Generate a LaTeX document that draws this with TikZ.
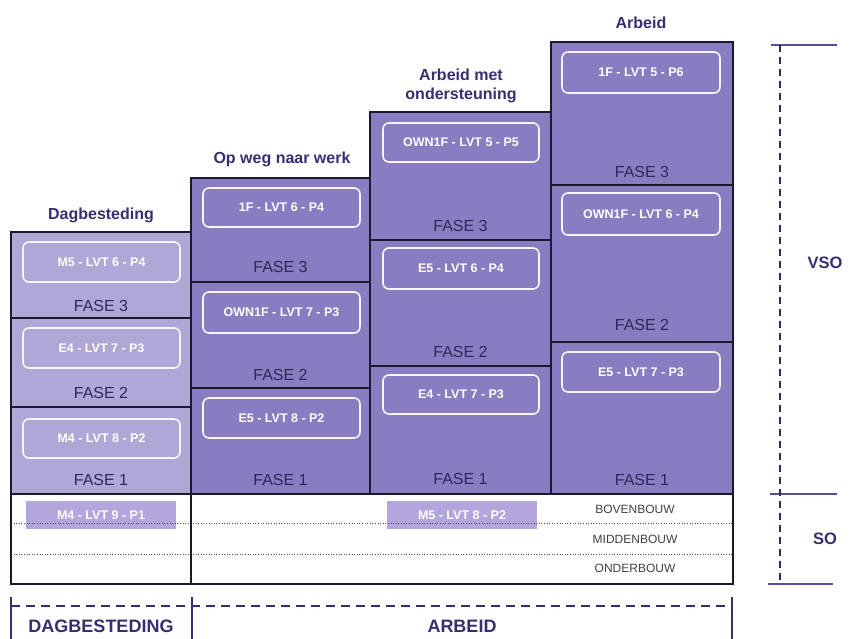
\documentclass[tikz,border=0pt]{standalone}
\usepackage{fontspec}
\setmainfont{Liberation Sans}
\definecolor{paars}{HTML}{8A7CC1}
\definecolor{lichtpaars}{HTML}{B1A7D7}
\definecolor{vakpaars}{HTML}{B3A6DC}
\definecolor{donker}{HTML}{2E2759}
\definecolor{koptekst}{HTML}{382D6E}
\definecolor{lijn}{HTML}{1C1830}
\definecolor{maat}{HTML}{5B4D99}
\begin{document}
\begin{tikzpicture}[x=1pt,y=-1pt,
		vak/.style={draw=lijn,line width=1.6pt},
		fase/.style={text=donker,font=\fontsize{16}{18}\selectfont},
		niveau/.style={draw=white!92!paars,line width=1.6pt,rounded corners=6pt,text=white,
			font=\bfseries\fontsize{12.5}{14}\selectfont,inner sep=0pt},
		so/.style={fill=vakpaars,text=white,font=\bfseries\fontsize{12.5}{14}\selectfont,
			minimum width=150pt,minimum height=28pt,inner sep=0pt},
		bouw/.style={text=black!75,font=\fontsize{12}{14}\selectfont},
		titel/.style={text=koptekst,font=\bfseries\fontsize{16}{19}\selectfont,align=center},
		groep/.style={text=koptekst,font=\bfseries\fontsize{18}{20}\selectfont}]
		\useasboundingbox (0,0) rectangle (850,638);
		% kolommen
		\draw[vak,fill=lichtpaars] (11,232) rectangle (191,318) (11,318) rectangle (191,407) (11,407) rectangle (191,494);
		\draw[vak,fill=paars] (191,178) rectangle (370,282) (191,282) rectangle (370,388) (191,388) rectangle (370,494);
		\draw[vak,fill=paars] (370,112) rectangle (551,240) (370,240) rectangle (551,366) (370,366) rectangle (551,494);
		\draw[vak,fill=paars] (551,42) rectangle (733,185) (551,185) rectangle (733,342) (551,342) rectangle (733,494);
		% titels
		\node[titel] (dag) at (101,215) {Dagbesteding};
		\node[titel] (weg) at (282,159) {Op weg naar werk};
		\node[titel] (mee) at (461,86) {Arbeid met\\ondersteuning};
		\node[titel] (arb) at (641,23) {Arbeid};
		% niveaus
		\node[niveau,minimum width=157pt,minimum height=40pt] (d3) at (101.5,262) {M5 - LVT 6 - P4};
		\node[niveau,minimum width=157pt,minimum height=40pt] (d2) at (101.5,348) {E4 - LVT 7 - P3};
		\node[niveau,minimum width=157pt,minimum height=39pt] (d1) at (101.5,438.5) {M4 - LVT 8 - P2};
		\node[niveau,minimum width=157pt,minimum height=39pt] (w3) at (281.5,207.5) {1F - LVT 6 - P4};
		\node[niveau,minimum width=157pt,minimum height=41pt] (w2) at (281.5,312.5) {OWN1F - LVT 7 - P3};
		\node[niveau,minimum width=157pt,minimum height=40pt] (w1) at (281.5,418) {E5 - LVT 8 - P2};
		\node[niveau,minimum width=156pt,minimum height=39pt] (m3) at (461,142.5) {OWN1F - LVT 5 - P5};
		\node[niveau,minimum width=156pt,minimum height=41pt] (m2) at (461,268.5) {E5 - LVT 6 - P4};
		\node[niveau,minimum width=156pt,minimum height=39pt] (m1) at (461,394.5) {E4 - LVT 7 - P3};
		\node[niveau,minimum width=158pt,minimum height=41pt] (a3) at (641,72.5) {1F - LVT 5 - P6};
		\node[niveau,minimum width=158pt,minimum height=42pt] (a2) at (641,214) {OWN1F - LVT 6 - P4};
		\node[niveau,minimum width=158pt,minimum height=40pt] (a1) at (641,372) {E5 - LVT 7 - P3};
		% fases
		\node[fase] (df3) at (101,306) {FASE 3};
		\node[fase] (df2) at (101,393) {FASE 2};
		\node[fase] (df1) at (101,480) {FASE 1};
		\node[fase] (wf3) at (280.5,267) {FASE 3};
		\node[fase] (wf2) at (280.5,375) {FASE 2};
		\node[fase] (wf1) at (280.5,480) {FASE 1};
		\node[fase] (mf3) at (460.5,226) {FASE 3};
		\node[fase] (mf2) at (460.5,352) {FASE 2};
		\node[fase] (mf1) at (460.5,479) {FASE 1};
		\node[fase] (af3) at (642,172) {FASE 3};
		\node[fase] (af2) at (642,325) {FASE 2};
		\node[fase] (af1) at (642,480) {FASE 1};
		% SO
		\node[so] (so1) at (101,515) {M4 - LVT 9 - P1};
		\node[so] (so2) at (462,515) {M5 - LVT 8 - P2};
		\draw[black!70,dotted,line width=0.6pt] (11,523)--(733,523) (11,554)--(733,554);
		\draw[vak] (11,494) rectangle (733,584) (191,494)--(191,584);
		\node[bouw] (bov) at (635,509) {BOVENBOUW};
		\node[bouw] (mid) at (635,539) {MIDDENBOUW};
		\node[bouw] (ond) at (635,568) {ONDERBOUW};
		% rechts
		\draw[maat,line width=1.3pt] (771,45)--(837,45) (770,494)--(837,494) (768,584)--(833,584);
		\draw[donker,line width=1.4pt,dash pattern=on 7pt off 5pt] (780,45)--(780,584);
		\node[groep,font=\bfseries\fontsize{16.5}{19}\selectfont] (vso) at (825,263) {VSO};
		\node[groep,font=\bfseries\fontsize{16.5}{19}\selectfont] (so) at (825,539) {SO};
		% onder
		\draw[koptekst,line width=1.6pt,dash pattern=on 9pt off 6pt] (11,606)--(733,606);
		\draw[koptekst,line width=1.6pt] (11,597)--(11,640) (192,597)--(192,640) (732,597)--(732,640);
		\node[groep] (gdag) at (101,626) {DAGBESTEDING};
		\node[groep] (garb) at (462,626) {ARBEID};
\end{tikzpicture}
\end{document}
